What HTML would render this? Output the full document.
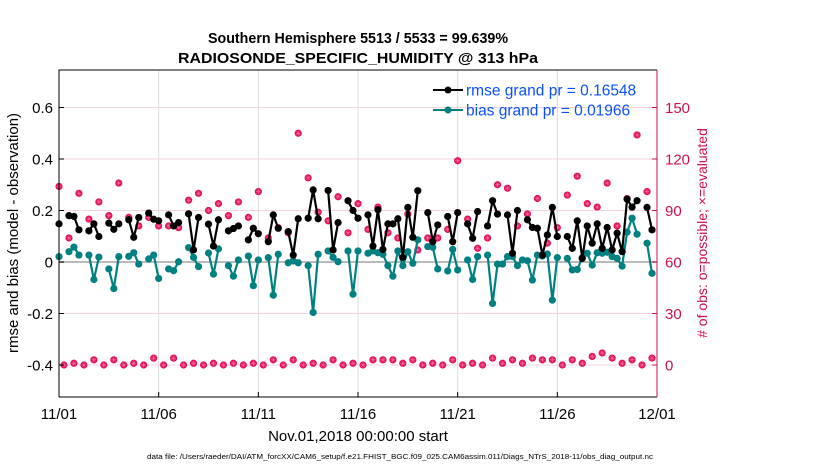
<!DOCTYPE html>
<html><head><meta charset="utf-8"><style>
body{margin:0;background:#fff;}
svg{display:block;font-family:"Liberation Sans",Arial,sans-serif;}
</style></head><body>
<svg id="chart" width="830" height="470" viewBox="0 0 830 470">
<text x="358" y="43" text-anchor="middle" font-size="15" font-weight="bold" textLength="300" lengthAdjust="spacingAndGlyphs">Southern Hemisphere 5513 / 5533 = 99.639%</text>
<text x="358" y="63" text-anchor="middle" font-size="15" font-weight="bold" textLength="360" lengthAdjust="spacingAndGlyphs">RADIOSONDE_SPECIFIC_HUMIDITY @ 313 hPa</text>
<g id="grid"></g>
<g id="marks"></g>
<g id="axes"></g>
<text transform="translate(18,233) rotate(-90)" text-anchor="middle" font-size="15">rmse and bias (model - observation)</text>
<text transform="translate(707,233) rotate(-90)" text-anchor="middle" font-size="14" fill="#d0104f"># of obs: o=possible; ×=evaluated</text>
<text x="358" y="441" text-anchor="middle" font-size="15">Nov.01,2018 00:00:00 start</text>
<text x="400" y="459" text-anchor="middle" font-size="7" textLength="506" lengthAdjust="spacingAndGlyphs">data file: /Users/raeder/DAI/ATM_forcXX/CAM6_setup/f.e21.FHIST_BGC.f09_025.CAM6assim.011/Diags_NTrS_2018-11/obs_diag_output.nc</text>
<g>
<line x1="433" y1="90" x2="463" y2="90" stroke="#000" stroke-width="2"/><circle cx="448" cy="90" r="3.5" fill="#000"/>
<text x="466" y="95.5" font-size="15.5" fill="#0a50ff">rmse grand pr = 0.16548</text>
<line x1="433" y1="110" x2="463" y2="110" stroke="#008080" stroke-width="2"/><circle cx="448" cy="110" r="3.5" fill="#008080"/>
<text x="466" y="115.5" font-size="15.5" fill="#0a50ff">bias grand pr = 0.01966</text>
</g>
</svg>
<script>
const xTickLabels = ["11/01","11/06","11/11","11/16","11/21","11/26","12/01"];
const yTicks = [-0.4,-0.2,0,0.2,0.4,0.6];
const yTickLabels = ["-0.4","-0.2","0","0.2","0.4","0.6"];
const rightTicks = [0,30,60,90,120,150];
const rmse = [
.148,null,.18,.177, .125,null,.121,.148, .099,null,.151,.127, .148,null,.164,.096,
.173,null,.19,.166, .16,null,.183,.14, .153,null,.187,.047, .173,null,.147,.062,
.164,null,.121,.13, .14,null,.086,.131, .11,null,.079,.183, .131,null,.118,.027,
.168,null,.17,.28, .168,null,.278,.047, .153,null,.238,.2, .17,null,.183,.062,
.203,.049,.148,.148, .168,.018,.212,.096, .277,null,.192,.079, .144,null,.177,.079,
.192,null,.148,.092, .196,null,.14,.238, .186,null,.183,.034, .2,null,.164,.134,
.131,.027,.105,.212, .099,null,.099,.053, .16,.014,.14,.073, .148,.053,.134,.047,
.112,.04,.244,.213, .238,null,.212,.125];
const bias = [
.021,null,.04,.058, .027,null,.027,-.068, .019,null,-.027,-.103, .021,null,.022,.036,
-.008,null,.012,.027, -.064,null,-.027,-.034, .001,null,.056,.018, -.018,null,.035,-.047,
.051,null,-.014,-.055, .008,null,.023,-.092, .008,null,.017,-.129, .03,null,-.003,.004,
-.003,null,-.014,-.196, .03,null,.043,.018, .001,null,.043,-.125, .043,null,.034,.043,
.036,.03,-.014,-.055, .043,-.014,.04,-.005, .086,null,.06,.057, -.027,null,-.035,.049,
-.031,null,.008,-.068, .021,null,.027,-.161, -.008,-.008,.021,.021, -.014,.008,.005,-.07,
.027,.023,.031,-.148, .017,null,.014,-.031, -.029,.017,.034,-.012, .036,.034,.038,.021,
.014,-.016,.116,.17, .108,null,.073,-.044];
const upperCounts = [104,74,100,85,95,87,106,86,81,86,81,81,80,96,100,90,94,87,95,86,
101,74,80,77,135,109,89,84,98,77,94,79,92,77,74,88,67,74,74,79,
119,85,68,74,105,103,81,88,97,71,80,99,110,94,92,106,81,97,134,101];
const lowerCounts = [0,1,0,3,0,3,0,1,0,4,0,4,0,1,0,1,0,1,0,1,
0,3,0,3,0,1,0,3,0,1,0,3,3,3,1,3,0,1,0,3,
0,1,0,4,1,3,1,4,3,3,0,3,1,5,7,4,1,3,0,4];

const L=59,R=657,T=70,B=397;
const X=d=>L+d*(R-L)/30;
const Y=v=>262-v*257.5;
const YR=c=>Y(c/150-0.4);
const NS="http://www.w3.org/2000/svg";
function mk(tag,attrs,parent){const e=document.createElementNS(NS,tag);for(const k in attrs)e.setAttribute(k,attrs[k]);parent.appendChild(e);return e;}
const grid=document.getElementById('grid'),marks=document.getElementById('marks'),axes=document.getElementById('axes');

xTickLabels.forEach((t,i)=>{const x=X(i*5);
 if(i>0&&i<6){const g=mk('line',{x1:x,y1:T,x2:x,y2:B,stroke:'#dcdcdc','stroke-width':1},grid);
 
 }
 const tk=mk('line',{x1:x,y1:B,x2:x,y2:B-5,stroke:'#000'},axes);
 
 
 const tx=mk('text',{x:x,y:B+22,'text-anchor':'middle','font-size':15},axes);tx.textContent=t;
 
 
});
yTicks.forEach((v,i)=>{const y=Y(v);
 const g=mk('line',{x1:L,y1:y,x2:R,y2:y,stroke:v===0?'#bbbbbb':'#f6d3e0','stroke-width':v===0?2:1},grid);
 
 
 mk('line',{x1:L,y1:y,x2:L+5,y2:y,stroke:'#000'},axes);
 const tx=mk('text',{x:L-6,y:y+5.5,'text-anchor':'end','font-size':15},axes);tx.textContent=yTickLabels[i];
 
 
});
rightTicks.forEach(c=>{const y=YR(c);
 mk('line',{x1:R,y1:y,x2:R-5,y2:y,stroke:'#d0104f'},axes);
 const tx=mk('text',{x:R+8,y:y+5.5,'font-size':15,fill:'#d0104f'},axes);tx.textContent=c;
 
 
});
mk('path',{d:`M${L},${B}V${T}H${R}`,fill:'none',stroke:'#000'},axes);
mk('line',{x1:L,y1:B,x2:R,y2:B,stroke:'#000'},axes);
mk('line',{x1:R,y1:T,x2:R,y2:B,stroke:'#d0104f'},axes);

function pinkMark(cx,cy,name){
 const g=mk('g',{},marks);
 
 
 mk('circle',{cx:cx,cy:cy,r:3.6,fill:'#e0105a'},g);
 mk('path',{d:`M${cx-2.5},${cy}H${cx+2.5}M${cx},${cy-2.5}V${cy+2.5}M${cx-1.8},${cy-1.8}L${cx+1.8},${cy+1.8}M${cx-1.8},${cy+1.8}L${cx+1.8},${cy-1.8}`,stroke:'#ff7aa8','stroke-width':0.5},g);
}
upperCounts.forEach((c,j)=>pinkMark(X(j*0.5),YR(c),'obs-count-upper'));
lowerCounts.forEach((c,j)=>pinkMark(X(0.25+j*0.5),YR(c),'obs-count-lower'));

function series(vals,color,name){
 let d='',pen=false;
 vals.forEach((v,k)=>{if(v===null){pen=false;return;}
  d+=(pen?'L':'M')+X(k/4).toFixed(1)+','+Y(v).toFixed(1);pen=true;});
 const p=mk('path',{d:d,fill:'none',stroke:color,'stroke-width':2.2,'stroke-linejoin':'round'},marks);
 
 
 vals.forEach((v,k)=>{if(v===null)return;
  const c=mk('circle',{cx:X(k/4),cy:Y(v),r:3.6,fill:color},marks);
  
  });
}
series(bias,'#008080','bias');
series(rmse,'#000000','rmse');
</script>
</body></html>
